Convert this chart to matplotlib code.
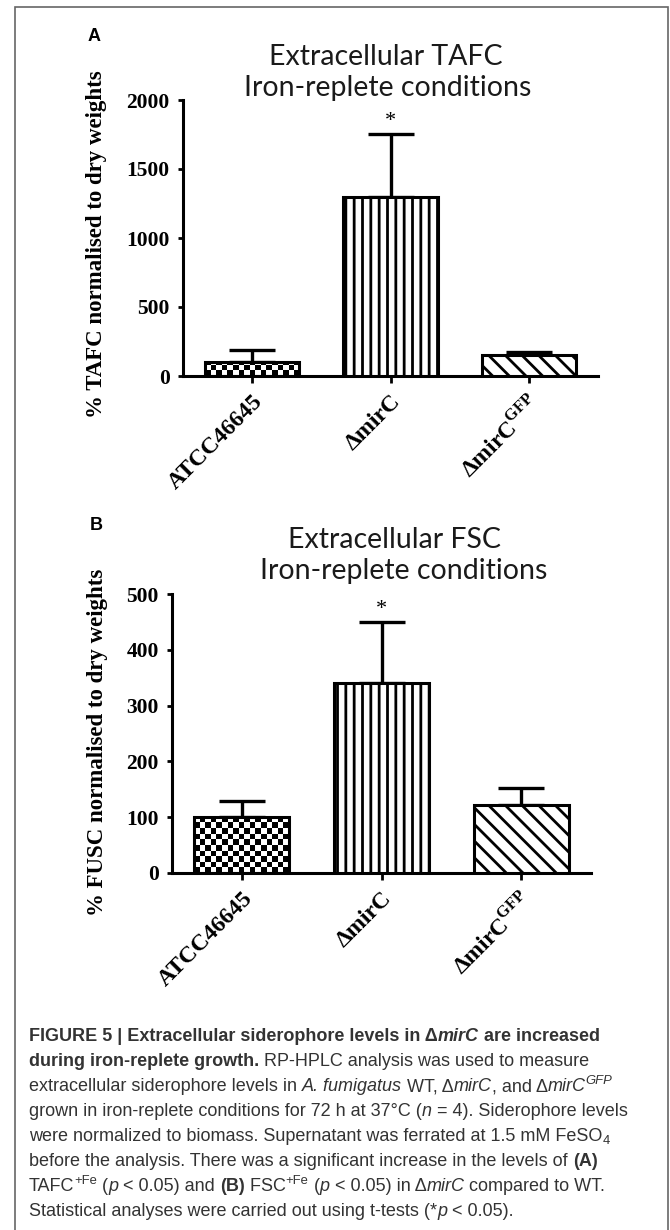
import numpy as np
import matplotlib.pyplot as plt
from matplotlib.patches import Rectangle

plt.rcParams['mathtext.fontset'] = 'custom'
plt.rcParams['mathtext.rm'] = 'Liberation Serif:bold'
plt.rcParams['mathtext.bf'] = 'Liberation Serif:bold'
plt.rcParams['hatch.linewidth'] = 2.0
plt.rcParams['hatch.color'] = 'black'

# Data
strains = ['ATCC46645', 'ΔmirC', r'ΔmirC$^{\mathrm{GFP}}$']
tafc_mean = [100, 1300, 150]
tafc_sem = [88, 451, 26]
fusc_mean = [100, 341, 122]
fusc_sem = [29, 108, 30]
tafc_ticks = [0, 500, 1000, 1500, 2000]
fusc_ticks = [0, 100, 200, 300, 400, 500]

title_a = ['Extracellular TAFC', 'Iron-replete conditions']
title_b = ['Extracellular FSC', 'Iron-replete conditions']
ylabel_a = '% TAFC normalised to dry weights'
ylabel_b = '% FUSC normalised to dry weights'

caption = [
    [('FIGURE 5 | Extracellular siderophore levels in Δ', 'b'), ('mirC', 'bi'), (' are increased', 'b')],
    [('during iron-replete growth.', 'b'), (' RP-HPLC analysis was used to measure', 'r')],
    [('extracellular siderophore levels in ', 'r'), ('A. fumigatus', 'i'), (' WT, Δ', 'r'), ('mirC', 'i'),
     (', and Δ', 'r'), ('mirC', 'i'), ('GFP', 'supi')],
    [('grown in iron-replete conditions for 72 h at 37°C (', 'r'), ('n', 'i'), (' = 4). Siderophore levels', 'r')],
    [('were normalized to biomass. Supernatant was ferrated at 1.5 mM FeSO', 'r'), ('4', 'sub')],
    [('before the analysis. There was a significant increase in the levels of ', 'r'), ('(A)', 'b')],
    [('TAFC', 'r'), ('+Fe', 'sup'), (' (', 'r'), ('p', 'i'), (' < 0.05) and ', 'r'), ('(B)', 'b'),
     (' FSC', 'r'), ('+Fe', 'sup'), (' (', 'r'), ('p', 'i'), (' < 0.05) in Δ', 'r'), ('mirC', 'i'),
     (' compared to WT.', 'r')],
    [('Statistical analyses were carried out using t-tests (*', 'r'), ('p', 'i'), (' < 0.05).', 'r')],
]

W, H = 670, 1230
fig = plt.figure(figsize=(W / 100, H / 100), dpi=100)


def fx(px):
    return px / W


def fy(py):
    return 1 - py / H


serif = 'Liberation Serif'


def draw_panel(ax, means, sems, yticks):
    x = np.arange(len(strains))
    ax.errorbar(x, means, yerr=[np.zeros(len(sems)), sems], fmt='none', ecolor='black',
                elinewidth=2.4, capsize=16.5, capthick=2.4, zorder=2)
    bars = ax.bar(x, means, width=0.68, facecolor='white', edgecolor='black',
                  linewidth=2.2, zorder=3)
    ax.set_xlim(-0.5, 2.5)
    ax.set_ylim(0, yticks[-1])

    # checkerboard fill for the first bar
    b = bars[0]
    b.set_facecolor('none')
    x0, x1 = b.get_x(), b.get_x() + b.get_width()
    (p0x, p0y), (p1x, p1y) = ax.transData.transform([(x0, 0), (x1, b.get_height())])
    cell = 5.6
    cols = int(round((p1x - p0x) / cell))
    rows = int(np.ceil((p1y - p0y) / cell))
    ch = cell * yticks[-1] / (ax.transData.transform((0, yticks[-1]))[1] - p0y)
    board = np.indices((rows, cols)).sum(axis=0) % 2
    im = ax.imshow(board, extent=(x0, x1, 0, rows * ch), origin='lower', cmap='gray',
                   vmin=0, vmax=1, interpolation='nearest', aspect='auto', zorder=2.5)
    im.set_clip_path(b)
    bars[1].set_hatch('||')
    bars[2].set_hatch('\\\\')

    ax.set_xlim(-0.5, 2.5)
    ax.set_ylim(0, yticks[-1])
    ax.set_yticks(yticks)
    ax.set_xticks(x)
    ax.set_xticklabels(strains, rotation=45, ha='right', rotation_mode='anchor',
                       fontsize=17, fontfamily=serif, fontweight='bold')
    for lab in ax.get_yticklabels():
        lab.set_fontfamily(serif)
        lab.set_fontweight('bold')
    ax.tick_params(axis='y', direction='out', length=3.6, width=2, labelsize=15.5, pad=6)
    ax.tick_params(axis='x', direction='out', length=5, width=2, pad=6)
    for s in ['top', 'right']:
        ax.spines[s].set_visible(False)
    for s in ['left', 'bottom']:
        ax.spines[s].set_linewidth(2.2)
    ax.patch.set_alpha(0)

    top = means[1] + sems[1]
    ax.annotate('*', xy=(1, top), xytext=(0, 6), textcoords='offset points', ha='center',
                va='baseline', fontsize=16, fontfamily=serif)


# Panel A
ax_a = fig.add_axes([fx(183), fy(376), fx(598 - 183), (376 - 100) / H])
draw_panel(ax_a, tafc_mean, tafc_sem, tafc_ticks)
fig.text(fx(88), fy(41), 'A', fontsize=13, fontweight='bold', fontfamily='Liberation Sans', va='baseline')
fig.text(fx(386), fy(65), title_a[0], fontsize=20.5, fontfamily='Lato', ha='center', va='baseline', color='#1a1a1a')
fig.text(fx(388), fy(96), title_a[1], fontsize=20.5, fontfamily='Lato', ha='center', va='baseline', color='#1a1a1a')
fig.text(fx(97), fy(244), ylabel_a, rotation=90, ha='center', va='center', fontsize=16.5,
         fontfamily=serif, fontweight='bold')

# Panel B
ax_b = fig.add_axes([fx(172), fy(873), fx(591 - 172), (873 - 594) / H])
draw_panel(ax_b, fusc_mean, fusc_sem, fusc_ticks)
fig.text(fx(90), fy(530), 'B', fontsize=13, fontweight='bold', fontfamily='Liberation Sans', va='baseline')
fig.text(fx(394), fy(548), title_b[0], fontsize=20.5, fontfamily='Lato', ha='center', va='baseline', color='#1a1a1a')
fig.text(fx(404), fy(579), title_b[1], fontsize=20.5, fontfamily='Lato', ha='center', va='baseline', color='#1a1a1a')
fig.text(fx(98), fy(742), ylabel_b, rotation=90, ha='center', va='center', fontsize=16.5,
         fontfamily=serif, fontweight='bold')

# Caption, drawn run by run
renderer = fig.canvas.get_renderer()
cap_size = 13
styles = {
    'r': dict(fontweight='normal', fontstyle='normal'),
    'b': dict(fontweight='bold', fontstyle='normal'),
    'i': dict(fontweight='normal', fontstyle='italic'),
    'bi': dict(fontweight='bold', fontstyle='italic'),
    'sup': dict(fontweight='normal', fontstyle='normal'),
    'supi': dict(fontweight='normal', fontstyle='italic'),
    'sub': dict(fontweight='normal', fontstyle='normal'),
}


def run_width(s, kw):
    t = fig.text(0, 0, '|' + s + '|', **kw)
    w1 = t.get_window_extent(renderer).width
    t.set_text('||')
    w2 = t.get_window_extent(renderer).width
    t.remove()
    return w1 - w2


for i, line in enumerate(caption):
    base = 1041 + i * 25
    xpos = 29.0
    for txt, st in line:
        kw = dict(fontfamily='Liberation Sans', color='#333333', **styles[st])
        shift = 0
        size = cap_size
        if st in ('sup', 'supi'):
            size = cap_size * 0.72
            shift = -7
        elif st == 'sub':
            size = cap_size * 0.72
            shift = 3
        kw['fontsize'] = size
        fig.text(fx(xpos), fy(base + shift), txt, va='baseline', **kw)
        xpos += run_width(txt, kw)

# Frame around the figure
fig.add_artist(Rectangle((fx(15), -0.01), fx(668 - 15), fy(7) + 0.01, fill=False,
                         edgecolor='#666666', linewidth=1.2, transform=fig.transFigure))

fig.savefig('out.png', dpi=100)
